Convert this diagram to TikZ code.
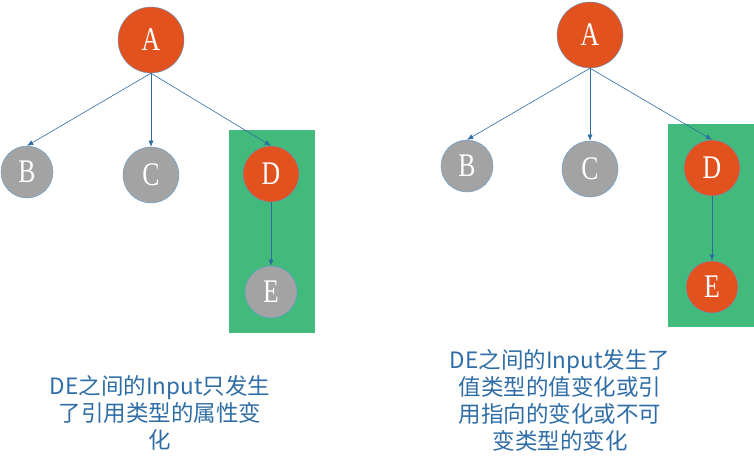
\documentclass[tikz,border=0pt]{standalone}
\usepackage{fontspec}
\setmainfont{Liberation Serif}
\newfontfamily\cjkfont{Noto Sans CJK SC}
\newfontfamily\letterfont[FakeStretch=0.78]{Liberation Serif}
\usepackage{xcolor}
\usetikzlibrary{arrows.meta, positioning}
\definecolor{hotred}{HTML}{E2521F}
\definecolor{coldgray}{HTML}{A3A3A3}
\definecolor{rimblue}{HTML}{5B9BD5}
\definecolor{linkblue}{HTML}{2E6CA4}
\definecolor{groupgreen}{HTML}{42BA7B}
\definecolor{noteblue}{HTML}{2F6DA6}
\tikzset{
  treenode/.style={
    circle, draw=rimblue, thin, inner sep=0pt, text=white,
    font=\letterfont\fontsize{33}{33}\selectfont
  },
  hotnode/.style={treenode, fill=hotred},
  coldnode/.style={treenode, fill=coldgray},
  edgearrow/.style={
    -{Latex[length=2.2mm, width=1.8mm]}, linkblue, semithick
  },
  groupbox/.style={
    fill=groupgreen, draw=none
  },
  notetext/.style={
    align=center, text=noteblue,
    font=\cjkfont\fontsize{22.5}{27}\selectfont
  },
}

\begin{document}
\begin{tikzpicture}[x=1pt, y=-1pt]
  \useasboundingbox (0,0) rectangle (754,455);

  % Left: only reference-type property changes
  \fill[groupbox] (229,130) rectangle (315,333);
  \node[hotnode, minimum size=66pt] (la) at (151,40) {A};
  \node[coldnode, minimum size=52pt] (lb) at (27,172) {B};
  \node[coldnode, minimum size=56pt] (lc) at (151,175) {C};
  \node[hotnode, minimum size=56pt] (ld) at (271,174) {D};
  \node[coldnode, minimum size=52pt] (le) at (271,292) {E};

  \draw[edgearrow] (la.south) -- (lb.north);
  \draw[edgearrow] (la.south) -- (lc.north);
  \draw[edgearrow] (la.south) -- (ld.north);
  \draw[edgearrow] (ld.south) -- (le.north);

  \node[notetext] (lnote) at (160,413)
    {DE之间的Input只发生\\了引用类型的属性变\\化};

  % Right: value or reference changes
  \fill[groupbox] (668,124) rectangle (754,327);
  \node[hotnode, minimum size=66pt] (ra) at (590,35) {A};
  \node[coldnode, minimum size=52pt] (rb) at (467,166) {B};
  \node[coldnode, minimum size=56pt] (rc) at (590,169) {C};
  \node[hotnode, minimum size=56pt] (rd) at (712,168) {D};
  \node[hotnode, minimum size=52pt] (re) at (712,287) {E};

  \draw[edgearrow] (ra.south) -- (rb.north);
  \draw[edgearrow] (ra.south) -- (rc.north);
  \draw[edgearrow] (ra.south) -- (rd.north);
  \draw[edgearrow] (rd.south) -- (re.north);

  \node[notetext] (rnote) at (560,400)
    {DE之间的Input发生了\\值类型的值变化或引\\用指向的变化或不可\\变类型的变化};
\end{tikzpicture}
\end{document}
